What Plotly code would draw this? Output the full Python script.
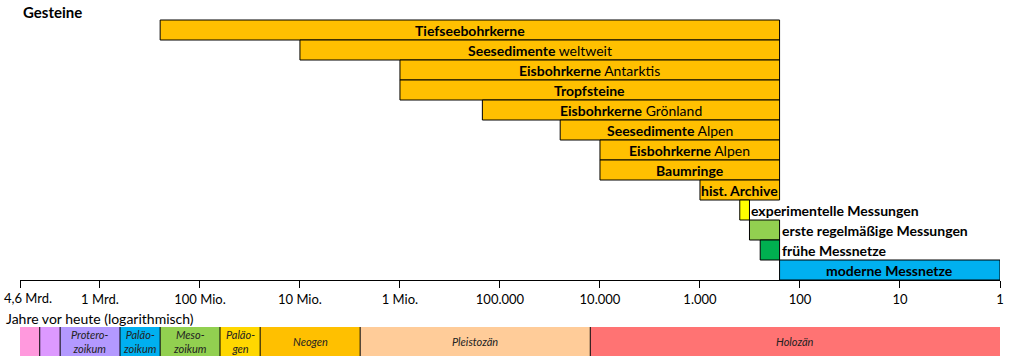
import math
import plotly.graph_objects as go

# ---- data -------------------------------------------------------------
AXIS_LEFT = 6.3e9  # left edge of the axis, labelled "4,6 Mrd."

archive_bold = ["Tiefseebohrkerne", "Seesedimente", "Eisbohrkerne", "Tropfsteine",
                "Eisbohrkerne", "Seesedimente", "Eisbohrkerne", "Baumringe",
                "hist. Archive", "experimentelle Messungen", "erste regelmäßige Messungen",
                "frühe Messnetze", "moderne Messnetze"]
archive_rest = ["", "weltweit", "Antarktis", "", "Grönland", "Alpen", "Alpen", "",
                "", "", "", "", ""]
archive_start = [2.5e8, 1e7, 1e6, 1e6, 1.5e5, 2.5e4, 1e4, 1e4, 1e3, 400, 320, 250, 160]
archive_end = [160, 160, 160, 160, 160, 160, 160, 160, 160, 320, 160, 160, 1]
archive_color = ["#FFC000"] * 9 + ["#FFFF00", "#92D050", "#00B050", "#00B0F0"]
label_outside = [False] * 9 + [True, True, True, False]

tick_vals = [AXIS_LEFT, 1e9, 1e8, 1e7, 1e6, 1e5, 1e4, 1e3, 100, 10, 1]
tick_text = ["4,6 Mrd.", "1 Mrd.", "100 Mio.", "10 Mio.", "1 Mio.", "100.000",
             "10.000", "1.000", "100", "10", "1"]

era_names = ["", "", "Protero-<br>zoikum", "Paläo-<br>zoikum", "Meso-<br>zoikum",
             "Paläo-<br>gen", "Neogen", "Pleistozän", "Holozän"]
era_start = [AXIS_LEFT, 4e9, 2.5e9, 6.3e8, 2.5e8, 6.3e7, 2.5e7, 2.5e6, 12500]
era_end = [4e9, 2.5e9, 6.3e8, 2.5e8, 6.3e7, 2.5e7, 2.5e6, 12500, 1]
era_color = ["#FF99DD", "#DD99FF", "#B399FF", "#00B0F0", "#92D050", "#FFD700",
             "#FFC000", "#FFCC99", "#FF7373"]

# ---- figure -----------------------------------------------------------
W, H = 1021, 356
FONT = "Lato"
fig = go.Figure()

rows = list(range(1, len(archive_bold) + 1))
fig.add_trace(go.Bar(
    orientation="h",
    y=rows,
    base=archive_end,
    x=[s - e for s, e in zip(archive_start, archive_end)],
    width=1,
    marker=dict(color=archive_color, line=dict(color="black", width=1)),
    hoverinfo="skip",
    xaxis="x", yaxis="y",
))

annotations = []
annotations.append(dict(x=math.log10(AXIS_LEFT), y=0, xref="x", yref="y",
                        text="<b>Gesteine</b>", showarrow=False, xanchor="left",
                        xshift=1, yshift=-2,
                        font=dict(family=FONT, size=15, color="black")))
for r, b, rest, s, e, out in zip(rows, archive_bold, archive_rest, archive_start,
                                  archive_end, label_outside):
    txt = "<b>%s</b>" % b + (" " + rest if rest else "")
    if out:
        annotations.append(dict(x=math.log10(e), y=r, xref="x", yref="y", text=txt,
                                showarrow=False, xanchor="left", xshift=0,
                                font=dict(family=FONT, size=14, color="black")))
    else:
        annotations.append(dict(x=(math.log10(s) + math.log10(e)) / 2, y=r,
                                xref="x", yref="y", text=txt, showarrow=False,
                                xanchor="center",
                                font=dict(family=FONT, size=14, color="black")))

# first tick label sits right of its tick (left edge of the picture)
annotations.append(dict(x=math.log10(AXIS_LEFT), y=1 - 298 / H, xref="x",
                        yref="paper", text=tick_text[0], showarrow=False,
                        xanchor="left", yanchor="middle", xshift=-18,
                        font=dict(family=FONT, size=13, color="black")))

# geological strip
fig.add_trace(go.Bar(
    orientation="h",
    y=[0] * len(era_start),
    base=era_end,
    x=[s - e for s, e in zip(era_start, era_end)],
    width=1,
    marker=dict(color=era_color, line=dict(width=0)),
    hoverinfo="skip",
    xaxis="x2", yaxis="y2",
))
for b in era_start[1:]:
    fig.add_trace(go.Scatter(x=[b, b], y=[-0.5, 0.5], mode="lines",
                             line=dict(color="black", width=1),
                             hoverinfo="skip", xaxis="x2", yaxis="y2"))
for n, s, e in zip(era_names, era_start, era_end):
    if n:
        annotations.append(dict(x=(math.log10(s) + math.log10(e)) / 2, y=0,
                                xref="x2", yref="y2", text="<i>%s</i>" % n,
                                showarrow=False,
                                font=dict(family=FONT, size=11, color="#222222")))

annotations.append(dict(x=-16 / 980, y=1 - 318 / H, xref="paper", yref="paper",
                        text="Jahre vor heute (logarithmisch)", showarrow=False,
                        xanchor="left", yanchor="middle",
                        font=dict(family=FONT, size=14, color="black")))

xr = [math.log10(AXIS_LEFT), 0]
fig.update_layout(
    width=W, height=H,
    margin=dict(l=20, r=21, t=0, b=0),
    plot_bgcolor="white", paper_bgcolor="white",
    showlegend=False, barmode="overlay",
    font=dict(family=FONT, size=13, color="black"),
    xaxis=dict(type="log", range=xr, showgrid=False, zeroline=False,
               showline=True, linecolor="black", linewidth=1,
               ticks="outside", ticklen=7, tickcolor="black",
               tickvals=tick_vals, ticktext=[""] + tick_text[1:],
               tickfont=dict(family=FONT, size=13, color="black"),
               ticklabeloverflow="allow", automargin=False,
               anchor="y"),
    yaxis=dict(domain=[1 - 280 / H, 1], range=[13.5, -0.5], visible=False,
               fixedrange=True),
    xaxis2=dict(type="log", range=xr, visible=False, anchor="y2",
                matches="x"),
    yaxis2=dict(domain=[0, 29 / H], range=[-0.5, 0.5], visible=False),
    annotations=annotations,
)

fig.write_html("out.html", config={"displayModeBar": False},
               post_script="document.body.style.margin='0';"
                           "document.body.style.overflow='hidden';")
